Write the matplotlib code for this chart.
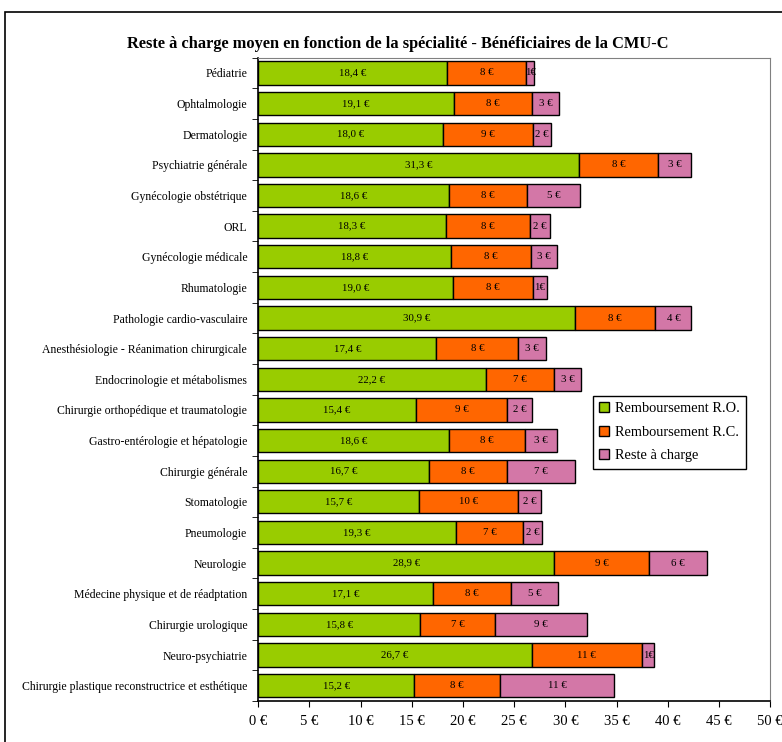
import numpy as np
import matplotlib
matplotlib.use('Agg')
import matplotlib.pyplot as plt
from matplotlib.patches import Rectangle

plt.rcParams['font.family'] = ['Liberation Serif', 'DejaVu Serif']

# Specialities (top to bottom)
specialites = [
    'Pédiatrie', 'Ophtalmologie', 'Dermatologie', 'Psychiatrie générale',
    'Gynécologie obstétrique', 'ORL', 'Gynécologie médicale', 'Rhumatologie',
    'Pathologie cardio-vasculaire', 'Anesthésiologie - Réanimation chirurgicale',
    'Endocrinologie et métabolismes', 'Chirurgie orthopédique et traumatologie',
    'Gastro-entérologie et hépatologie', 'Chirurgie générale', 'Stomatologie',
    'Pneumologie', 'Neurologie', 'Médecine physique et de réadptation',
    'Chirurgie urologique', 'Neuro-psychiatrie',
    'Chirurgie plastique reconstructrice et esthétique',
]

# Remboursement R.O. (euros)
remb_ro = [18.4, 19.1, 18.0, 31.3, 18.6, 18.3, 18.8, 19.0, 30.9, 17.4, 22.2,
           15.4, 18.6, 16.7, 15.7, 19.3, 28.9, 17.1, 15.8, 26.7, 15.2]
# Remboursement R.C. (euros)
remb_rc = [7.8, 7.6, 8.8, 7.8, 7.7, 8.2, 7.8, 7.8, 7.9, 8.0, 6.7,
           8.9, 7.5, 7.6, 9.7, 6.6, 9.3, 7.6, 7.3, 10.8, 8.4]
# Reste à charge (euros)
reste = [0.7, 2.7, 1.8, 3.2, 5.1, 2.0, 2.6, 1.4, 3.5, 2.7, 2.6,
         2.4, 3.1, 6.6, 2.2, 1.8, 5.6, 4.6, 9.0, 1.2, 11.2]

series = ['Remboursement R.O.', 'Remboursement R.C.', 'Reste à charge']
colors = ['#99CC00', '#FF6600', '#D377A7']
xticks = np.arange(0, 55, 5)


def lab_dec(v):
    return f'{v:.1f} €'.replace('.', ',')


def lab_int(v):
    n = int(v + 0.5)
    return f'{n}€' if v < 1.5 else f'{n} €'


fig = plt.figure(figsize=(7.82, 7.42), dpi=100)
ax = fig.add_axes([0.3303, 0.0553, 0.6544, 0.867])

# outer chart frame
fig.patches.append(Rectangle((0.0064, -0.05), 1.2, 0.9838 + 0.05, transform=fig.transFigure,
                             fill=False, edgecolor='black', linewidth=1.2, clip_on=False))

y = np.arange(len(specialites))
left = np.zeros(len(specialites))
for vals, col, name, fmt in zip([remb_ro, remb_rc, reste], colors, series,
                                [lab_dec, lab_int, lab_int]):
    vals = np.array(vals)
    ax.barh(y, vals, left=left, height=0.76, color=col, edgecolor='black',
            linewidth=1.0, label=name)
    for yi, l, v in zip(y, left, vals):
        ax.text(l + v / 2, yi, fmt(v), ha='center', va='center', fontsize=7.8)
    left = left + vals

ax.set_ylim(len(specialites) - 0.5, -0.5)
ax.set_xlim(0, 50)
ax.set_yticks(y)
ax.set_yticklabels(specialites, fontsize=8.5)
ax.set_yticks(np.arange(len(specialites) + 1) - 0.5, minor=True)
ax.tick_params(axis='y', which='major', length=0, pad=8)
ax.tick_params(axis='y', which='minor', length=4, direction='out')
ax.set_xticks(xticks)
ax.set_xticklabels([f'{v} €' for v in xticks], fontsize=10.5)
ax.tick_params(axis='x', length=4, direction='out', pad=6)

for s in ['top', 'right']:
    ax.spines[s].set_color('#808080')
for s in ['left', 'bottom']:
    ax.spines[s].set_color('black')
    ax.spines[s].set_linewidth(1.2)

fig.text(0.509, 0.941, 'Reste à charge moyen en fonction de la spécialité - Bénéficiaires de la CMU-C',
         ha='center', va='center', fontsize=11.8, fontweight='bold')

leg = ax.legend(loc='upper left', bbox_to_anchor=(0.639, 0.4855), fontsize=10.4,
                frameon=True, fancybox=False, edgecolor='black', framealpha=1,
                handlelength=0.7, handleheight=0.7, handletextpad=0.4,
                borderpad=0.45, labelspacing=0.72)
leg.get_frame().set_linewidth(1.0)

fig.savefig('out.png', dpi=100)
